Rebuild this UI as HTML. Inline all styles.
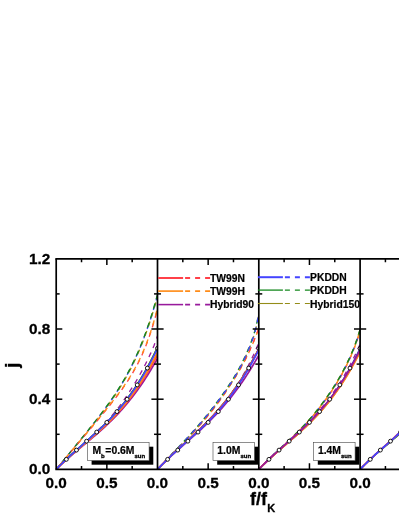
<!DOCTYPE html>
<html><head><meta charset="utf-8"><title>j vs f/fK</title>
<style>html,body{margin:0;padding:0;background:#fff;overflow:hidden}svg{display:block}#w{will-change:transform;width:399px;height:516px}</style></head>
<body>
<div id="w">
<svg width="399" height="516" viewBox="0 0 399 516" font-family="'Liberation Sans', sans-serif" font-weight="bold">
<rect width="399" height="516" fill="#fff"/>
<defs>
<clipPath id="cp0"><rect x="56.20" y="258.80" width="101.30" height="210.60"/></clipPath>
<clipPath id="cp1"><rect x="157.50" y="258.80" width="101.30" height="210.60"/></clipPath>
<clipPath id="cp2"><rect x="258.80" y="258.80" width="101.30" height="210.60"/></clipPath>
<clipPath id="cp3"><rect x="360.10" y="258.80" width="101.30" height="210.60"/></clipPath>
</defs>
<g clip-path="url(#cp0)">
<g fill="none" stroke-width="1.70" stroke-linejoin="round">
<path d="M56.20 469.40 L57.89 467.35 L59.58 465.30 L61.27 463.26 L62.95 461.21 L64.64 459.16 L66.33 457.11 L68.02 455.07 L69.71 453.02 L71.39 450.97 L73.08 448.92 L74.77 446.87 L76.46 444.81 L78.15 442.76 L79.84 440.70 L81.53 438.64 L83.21 436.57 L84.90 434.50 L86.59 432.42 L88.28 430.33 L89.97 428.24 L91.66 426.13 L93.34 424.02 L95.03 421.88 L96.72 419.74 L98.41 417.57 L100.10 415.38 L101.78 413.17 L103.47 410.94 L105.16 408.67 L106.85 406.37 L108.54 404.04 L110.23 401.67 L111.92 399.25 L113.60 396.79 L115.29 394.28 L116.98 391.71 L118.67 389.07 L120.36 386.37 L122.05 383.60 L123.73 380.75 L125.42 377.82 L127.11 374.79 L128.80 371.67 L130.49 368.44 L132.18 365.10 L133.86 361.64 L135.55 358.05 L137.24 354.33 L138.93 350.46 L140.62 346.43 L142.31 342.24 L143.99 337.87 L145.68 333.32 L147.37 328.57 L149.06 323.62 L150.75 318.45 L152.44 313.04 L154.12 307.39 L155.81 301.48 L157.50 295.30" stroke="#4444ff" stroke-dasharray="5 5" stroke-dashoffset="1.5" stroke-width="1.35"/>
<path d="M56.20 469.40 L57.89 467.37 L59.58 465.33 L61.27 463.30 L62.95 461.27 L64.64 459.24 L66.33 457.20 L68.02 455.17 L69.71 453.13 L71.39 451.10 L73.08 449.06 L74.77 447.03 L76.46 444.99 L78.15 442.95 L79.84 440.90 L81.53 438.86 L83.21 436.80 L84.90 434.75 L86.59 432.68 L88.28 430.61 L89.97 428.53 L91.66 426.44 L93.34 424.34 L95.03 422.22 L96.72 420.09 L98.41 417.93 L100.10 415.76 L101.78 413.57 L103.47 411.35 L105.16 409.09 L106.85 406.81 L108.54 404.49 L110.23 402.14 L111.92 399.74 L113.60 397.29 L115.29 394.79 L116.98 392.23 L118.67 389.61 L120.36 386.93 L122.05 384.17 L123.73 381.34 L125.42 378.42 L127.11 375.41 L128.80 372.30 L130.49 369.09 L132.18 365.76 L133.86 362.31 L135.55 358.74 L137.24 355.03 L138.93 351.17 L140.62 347.16 L142.31 342.99 L143.99 338.63 L145.68 334.10 L147.37 329.36 L149.06 324.42 L150.75 319.26 L152.44 313.87 L154.12 308.24 L155.81 302.34 L157.50 296.18" stroke="#948c18" stroke-dasharray="5 5" stroke-dashoffset="-1.5" stroke-width="1.35"/>
<path d="M56.20 469.40 L57.89 467.34 L59.58 465.28 L61.27 463.22 L62.95 461.16 L64.64 459.10 L66.33 457.04 L68.02 454.98 L69.71 452.92 L71.39 450.86 L73.08 448.80 L74.77 446.74 L76.46 444.67 L78.15 442.61 L79.84 440.54 L81.53 438.46 L83.21 436.38 L84.90 434.30 L86.59 432.21 L88.28 430.11 L89.97 428.00 L91.66 425.89 L93.34 423.76 L95.03 421.61 L96.72 419.45 L98.41 417.27 L100.10 415.08 L101.78 412.85 L103.47 410.60 L105.16 408.33 L106.85 406.02 L108.54 403.67 L110.23 401.29 L111.92 398.86 L113.60 396.38 L115.29 393.85 L116.98 391.27 L118.67 388.62 L120.36 385.91 L122.05 383.12 L123.73 380.26 L125.42 377.31 L127.11 374.27 L128.80 371.13 L130.49 367.89 L132.18 364.53 L133.86 361.06 L135.55 357.45 L137.24 353.71 L138.93 349.82 L140.62 345.77 L142.31 341.56 L143.99 337.18 L145.68 332.61 L147.37 327.84 L149.06 322.86 L150.75 317.67 L152.44 312.24 L154.12 306.56 L155.81 300.63 L157.50 294.43" stroke="#14881e" stroke-dasharray="5.5 4.5" stroke-dashoffset="0.5" stroke-width="1.35"/>
<path d="M56.20 469.40 L57.89 467.40 L59.58 465.39 L61.27 463.39 L62.95 461.39 L64.64 459.38 L66.33 457.38 L68.02 455.37 L69.71 453.37 L71.39 451.37 L73.08 449.36 L74.77 447.36 L76.46 445.36 L78.15 443.35 L79.84 441.35 L81.53 439.34 L83.21 437.34 L84.90 435.33 L86.59 433.33 L88.28 431.32 L89.97 429.31 L91.66 427.30 L93.34 425.28 L95.03 423.27 L96.72 421.25 L98.41 419.22 L100.10 417.19 L101.78 415.15 L103.47 413.10 L105.16 411.05 L106.85 408.98 L108.54 406.89 L110.23 404.79 L111.92 402.67 L113.60 400.52 L115.29 398.35 L116.98 396.14 L118.67 393.90 L120.36 391.61 L122.05 389.28 L123.73 386.89 L125.42 384.44 L127.11 381.92 L128.80 379.32 L130.49 376.64 L132.18 373.85 L133.86 370.95 L135.55 367.92 L137.24 364.76 L138.93 361.44 L140.62 357.95 L142.31 354.28 L143.99 350.39 L145.68 346.27 L147.37 341.90 L149.06 337.25 L150.75 332.29 L152.44 327.00 L154.12 321.35 L155.81 315.30 L157.50 308.82" stroke="#ff4048" stroke-dasharray="5 5" stroke-dashoffset="7" stroke-width="1.35"/>
<path d="M56.20 469.40 L57.89 467.38 L59.58 465.36 L61.27 463.35 L62.95 461.33 L64.64 459.31 L66.33 457.29 L68.02 455.27 L69.71 453.25 L71.39 451.24 L73.08 449.22 L74.77 447.20 L76.46 445.18 L78.15 443.16 L79.84 441.14 L81.53 439.12 L83.21 437.10 L84.90 435.08 L86.59 433.06 L88.28 431.04 L89.97 429.02 L91.66 426.99 L93.34 424.96 L95.03 422.93 L96.72 420.90 L98.41 418.86 L100.10 416.81 L101.78 414.76 L103.47 412.69 L105.16 410.62 L106.85 408.54 L108.54 406.44 L110.23 404.32 L111.92 402.18 L113.60 400.02 L115.29 397.83 L116.98 395.61 L118.67 393.36 L120.36 391.06 L122.05 388.71 L123.73 386.31 L125.42 383.84 L127.11 381.31 L128.80 378.70 L130.49 375.99 L132.18 373.19 L133.86 370.28 L135.55 367.24 L137.24 364.06 L138.93 360.73 L140.62 357.22 L142.31 353.53 L143.99 349.63 L145.68 345.49 L147.37 341.11 L149.06 336.44 L150.75 331.47 L152.44 326.17 L154.12 320.50 L155.81 314.44 L157.50 307.94" stroke="#ff8c18" stroke-dasharray="5 5" stroke-dashoffset="5" stroke-width="1.35"/>
<path d="M56.20 469.40 L57.89 467.65 L59.58 465.93 L61.27 464.23 L62.95 462.57 L64.64 460.92 L66.33 459.30 L68.02 457.70 L69.71 456.12 L71.39 454.55 L73.08 453.00 L74.77 451.45 L76.46 449.92 L78.15 448.40 L79.84 446.88 L81.53 445.36 L83.21 443.85 L84.90 442.34 L86.59 440.82 L88.28 439.30 L89.97 437.76 L91.66 436.22 L93.34 434.66 L95.03 433.08 L96.72 431.48 L98.41 429.86 L100.10 428.21 L101.78 426.54 L103.47 424.84 L105.16 423.10 L106.85 421.34 L108.54 419.51 L110.23 417.63 L111.92 415.68 L113.60 413.67 L115.29 411.61 L116.98 409.50 L118.67 407.32 L120.36 405.05 L122.05 402.72 L123.73 400.32 L125.42 397.86 L127.11 395.36 L128.80 392.81 L130.49 390.22 L132.18 387.58 L133.86 384.87 L135.55 382.09 L137.24 379.24 L138.93 376.31 L140.62 373.28 L142.31 370.17 L143.99 366.97 L145.68 363.69 L147.37 360.30 L149.06 356.79 L150.75 353.13 L152.44 349.30 L154.12 345.17 L155.81 340.71 L157.50 336.04" stroke="#981a9c" stroke-dasharray="5 5" stroke-dashoffset="3" stroke-width="1.35"/>
<path d="M56.20 469.40 L57.89 467.73 L59.58 466.09 L61.27 464.48 L62.95 462.91 L64.64 461.35 L66.33 459.83 L68.02 458.32 L69.71 456.84 L71.39 455.37 L73.08 453.92 L74.77 452.48 L76.46 451.05 L78.15 449.63 L79.84 448.22 L81.53 446.82 L83.21 445.41 L84.90 444.01 L86.59 442.60 L88.28 441.20 L89.97 439.78 L91.66 438.36 L93.34 436.93 L95.03 435.49 L96.72 434.04 L98.41 432.57 L100.10 431.08 L101.78 429.57 L103.47 428.05 L105.16 426.50 L106.85 424.92 L108.54 423.32 L110.23 421.69 L111.92 420.03 L113.60 418.34 L115.29 416.61 L116.98 414.85 L118.67 413.06 L120.36 411.22 L122.05 409.35 L123.73 407.43 L125.42 405.47 L127.11 403.47 L128.80 401.42 L130.49 399.32 L132.18 397.17 L133.86 394.97 L135.55 392.73 L137.24 390.43 L138.93 388.07 L140.62 385.66 L142.31 383.20 L143.99 380.68 L145.68 378.10 L147.37 375.46 L149.06 372.76 L150.75 370.00 L152.44 367.18 L154.12 364.29 L155.81 361.34 L157.50 358.33" stroke="#981a9c"/>
<path d="M56.20 469.40 L57.89 467.70 L59.58 466.04 L61.27 464.41 L62.95 462.80 L64.64 461.22 L66.33 459.67 L68.02 458.14 L69.71 456.63 L71.39 455.13 L73.08 453.65 L74.77 452.19 L76.46 450.73 L78.15 449.29 L79.84 447.85 L81.53 446.42 L83.21 444.99 L84.90 443.56 L86.59 442.13 L88.28 440.69 L89.97 439.25 L91.66 437.80 L93.34 436.34 L95.03 434.87 L96.72 433.39 L98.41 431.89 L100.10 430.37 L101.78 428.83 L103.47 427.27 L105.16 425.68 L106.85 424.07 L108.54 422.43 L110.23 420.77 L111.92 419.07 L113.60 417.33 L115.29 415.56 L116.98 413.76 L118.67 411.91 L120.36 410.02 L122.05 408.10 L123.73 406.12 L125.42 404.10 L127.11 402.04 L128.80 399.92 L130.49 397.75 L132.18 395.53 L133.86 393.25 L135.55 390.92 L137.24 388.53 L138.93 386.08 L140.62 383.57 L142.31 381.00 L143.99 378.36 L145.68 375.66 L147.37 372.90 L149.06 370.06 L150.75 367.16 L152.44 364.18 L154.12 361.13 L155.81 358.01 L157.50 354.82" stroke="#ff4048"/>
<path d="M56.20 469.40 L57.89 467.69 L59.58 466.00 L61.27 464.35 L62.95 462.73 L64.64 461.14 L66.33 459.56 L68.02 458.01 L69.71 456.49 L71.39 454.97 L73.08 453.48 L74.77 451.99 L76.46 450.52 L78.15 449.06 L79.84 447.60 L81.53 446.15 L83.21 444.70 L84.90 443.26 L86.59 441.81 L88.28 440.35 L89.97 438.89 L91.66 437.42 L93.34 435.95 L95.03 434.45 L96.72 432.95 L98.41 431.43 L100.10 429.89 L101.78 428.33 L103.47 426.74 L105.16 425.13 L106.85 423.50 L108.54 421.83 L110.23 420.14 L111.92 418.41 L113.60 416.64 L115.29 414.84 L116.98 413.00 L118.67 411.12 L120.36 409.20 L122.05 407.23 L123.73 405.21 L125.42 403.15 L127.11 401.03 L128.80 398.86 L130.49 396.64 L132.18 394.36 L133.86 392.03 L135.55 389.63 L137.24 387.17 L138.93 384.65 L140.62 382.06 L142.31 379.40 L143.99 376.68 L145.68 373.88 L147.37 371.02 L149.06 368.07 L150.75 365.05 L152.44 361.96 L154.12 358.78 L155.81 355.53 L157.50 352.19" stroke="#ff8c18"/>
<path d="M56.20 469.40 L57.89 467.63 L59.58 465.90 L61.27 464.20 L62.95 462.52 L64.64 460.87 L66.33 459.25 L68.02 457.65 L69.71 456.06 L71.39 454.50 L73.08 452.95 L74.77 451.42 L76.46 449.89 L78.15 448.37 L79.84 446.87 L81.53 445.36 L83.21 443.86 L84.90 442.36 L86.59 440.85 L88.28 439.34 L89.97 437.83 L91.66 436.31 L93.34 434.77 L95.03 433.22 L96.72 431.66 L98.41 430.08 L100.10 428.48 L101.78 426.86 L103.47 425.21 L105.16 423.54 L106.85 421.84 L108.54 420.11 L110.23 418.34 L111.92 416.55 L113.60 414.71 L115.29 412.83 L116.98 410.92 L118.67 408.95 L120.36 406.95 L122.05 404.89 L123.73 402.78 L125.42 400.62 L127.11 398.41 L128.80 396.14 L130.49 393.80 L132.18 391.41 L133.86 388.95 L135.55 386.43 L137.24 383.84 L138.93 381.18 L140.62 378.44 L142.31 375.63 L143.99 372.74 L145.68 369.77 L147.37 366.72 L149.06 363.59 L150.75 360.37 L152.44 357.06 L154.12 353.65 L155.81 350.16 L157.50 346.57" stroke="#948c18" stroke-width="1.15"/>
<path d="M56.20 469.40 L57.89 467.64 L59.58 465.91 L61.27 464.21 L62.95 462.54 L64.64 460.90 L66.33 459.28 L68.02 457.69 L69.71 456.11 L71.39 454.55 L73.08 453.01 L74.77 451.48 L76.46 449.96 L78.15 448.45 L79.84 446.95 L81.53 445.45 L83.21 443.95 L84.90 442.46 L86.59 440.96 L88.28 439.46 L89.97 437.95 L91.66 436.43 L93.34 434.90 L95.03 433.36 L96.72 431.80 L98.41 430.23 L100.10 428.63 L101.78 427.02 L103.47 425.38 L105.16 423.71 L106.85 422.02 L108.54 420.29 L110.23 418.53 L111.92 416.74 L113.60 414.91 L115.29 413.04 L116.98 411.13 L118.67 409.17 L120.36 407.17 L122.05 405.12 L123.73 403.02 L125.42 400.86 L127.11 398.65 L128.80 396.39 L130.49 394.06 L132.18 391.67 L133.86 389.22 L135.55 386.71 L137.24 384.12 L138.93 381.46 L140.62 378.73 L142.31 375.93 L143.99 373.05 L145.68 370.08 L147.37 367.04 L149.06 363.91 L150.75 360.69 L152.44 357.39 L154.12 353.99 L155.81 350.51 L157.50 346.92" stroke="#14881e" stroke-width="1.15"/>
<path d="M56.20 469.40 L57.89 467.65 L59.58 465.93 L61.27 464.25 L62.95 462.59 L64.64 460.96 L66.33 459.35 L68.02 457.77 L69.71 456.20 L71.39 454.66 L73.08 453.13 L74.77 451.61 L76.46 450.10 L78.15 448.60 L79.84 447.11 L81.53 445.63 L83.21 444.14 L84.90 442.66 L86.59 441.17 L88.28 439.68 L89.97 438.18 L91.66 436.68 L93.34 435.16 L95.03 433.63 L96.72 432.09 L98.41 430.53 L100.10 428.95 L101.78 427.35 L103.47 425.72 L105.16 424.07 L106.85 422.39 L108.54 420.68 L110.23 418.94 L111.92 417.16 L113.60 415.35 L115.29 413.49 L116.98 411.60 L118.67 409.67 L120.36 407.68 L122.05 405.66 L123.73 403.58 L125.42 401.45 L127.11 399.26 L128.80 397.02 L130.49 394.73 L132.18 392.37 L133.86 389.95 L135.55 387.46 L137.24 384.91 L138.93 382.29 L140.62 379.60 L142.31 376.84 L143.99 374.00 L145.68 371.08 L147.37 368.08 L149.06 365.01 L150.75 361.85 L152.44 358.60 L154.12 355.27 L155.81 351.84 L157.50 348.32" stroke="#4444ff"/>
</g>
<g fill="#fff" stroke="#000" stroke-width="0.9">
<circle cx="66.33" cy="459.35" r="1.95"/>
<circle cx="76.46" cy="450.10" r="1.95"/>
<circle cx="86.59" cy="441.17" r="1.95"/>
<circle cx="96.72" cy="432.09" r="1.95"/>
<circle cx="106.85" cy="422.39" r="1.95"/>
<circle cx="116.98" cy="411.60" r="1.95"/>
<circle cx="127.11" cy="399.26" r="1.95"/>
<circle cx="137.24" cy="384.91" r="1.95"/>
<circle cx="147.37" cy="368.08" r="1.95"/>
<circle cx="157.50" cy="348.32" r="1.95"/>
</g>
</g>
<g clip-path="url(#cp1)">
<g fill="none" stroke-width="1.70" stroke-linejoin="round">
<path d="M157.50 469.40 L159.19 467.61 L160.88 465.86 L162.56 464.13 L164.25 462.43 L165.94 460.77 L167.63 459.12 L169.32 457.50 L171.01 455.89 L172.69 454.31 L174.38 452.74 L176.07 451.18 L177.76 449.63 L179.45 448.10 L181.14 446.57 L182.82 445.04 L184.51 443.52 L186.20 441.99 L187.89 440.47 L189.58 438.94 L191.27 437.40 L192.95 435.86 L194.64 434.31 L196.33 432.74 L198.02 431.16 L199.71 429.57 L201.40 427.95 L203.08 426.31 L204.77 424.65 L206.46 422.96 L208.15 421.24 L209.84 419.49 L211.53 417.71 L213.21 415.89 L214.90 414.03 L216.59 412.14 L218.28 410.20 L219.97 408.21 L221.66 406.19 L223.34 404.11 L225.03 401.99 L226.72 399.81 L228.41 397.58 L230.10 395.28 L231.79 392.92 L233.48 390.50 L235.16 388.01 L236.85 385.45 L238.54 382.81 L240.23 380.08 L241.92 377.25 L243.61 374.32 L245.29 371.29 L246.98 368.16 L248.67 364.93 L250.36 361.57 L252.05 358.07 L253.74 354.42 L255.42 350.64 L257.11 346.74 L258.80 342.71" stroke="#981a9c" stroke-dasharray="5 5" stroke-dashoffset="3" stroke-width="1.35"/>
<path d="M157.50 469.40 L159.19 467.62 L160.88 465.86 L162.56 464.10 L164.25 462.36 L165.94 460.63 L167.63 458.91 L169.32 457.19 L171.01 455.49 L172.69 453.80 L174.38 452.11 L176.07 450.44 L177.76 448.77 L179.45 447.09 L181.14 445.37 L182.82 443.63 L184.51 441.86 L186.20 440.07 L187.89 438.26 L189.58 436.43 L191.27 434.58 L192.95 432.73 L194.64 430.87 L196.33 429.01 L198.02 427.14 L199.71 425.26 L201.40 423.37 L203.08 421.45 L204.77 419.50 L206.46 417.53 L208.15 415.52 L209.84 413.48 L211.53 411.40 L213.21 409.28 L214.90 407.11 L216.59 404.89 L218.28 402.61 L219.97 400.29 L221.66 397.92 L223.34 395.50 L225.03 393.04 L226.72 390.53 L228.41 387.99 L230.10 385.41 L231.79 382.80 L233.48 380.15 L235.16 377.47 L236.85 374.73 L238.54 371.93 L240.23 369.04 L241.92 366.06 L243.61 362.97 L245.29 359.77 L246.98 356.41 L248.67 352.90 L250.36 349.23 L252.05 345.42 L253.74 341.47 L255.42 337.32 L257.11 332.99 L258.80 328.49" stroke="#ff8c18" stroke-dasharray="5 5" stroke-dashoffset="1.5" stroke-width="1.35"/>
<path d="M157.50 469.40 L159.19 467.62 L160.88 465.85 L162.56 464.09 L164.25 462.34 L165.94 460.60 L167.63 458.87 L169.32 457.16 L171.01 455.45 L172.69 453.75 L174.38 452.06 L176.07 450.37 L177.76 448.70 L179.45 447.01 L181.14 445.29 L182.82 443.54 L184.51 441.76 L186.20 439.97 L187.89 438.15 L189.58 436.31 L191.27 434.47 L192.95 432.61 L194.64 430.74 L196.33 428.87 L198.02 427.00 L199.71 425.12 L201.40 423.22 L203.08 421.29 L204.77 419.34 L206.46 417.36 L208.15 415.35 L209.84 413.30 L211.53 411.21 L213.21 409.09 L214.90 406.91 L216.59 404.68 L218.28 402.40 L219.97 400.07 L221.66 397.69 L223.34 395.27 L225.03 392.80 L226.72 390.29 L228.41 387.74 L230.10 385.16 L231.79 382.54 L233.48 379.89 L235.16 377.20 L236.85 374.46 L238.54 371.65 L240.23 368.76 L241.92 365.77 L243.61 362.68 L245.29 359.46 L246.98 356.10 L248.67 352.58 L250.36 348.91 L252.05 345.10 L253.74 341.14 L255.42 336.98 L257.11 332.65 L258.80 328.14" stroke="#ff4048" stroke-dasharray="5 5" stroke-dashoffset="0" stroke-width="1.35"/>
<path d="M157.50 469.40 L159.19 467.58 L160.88 465.77 L162.56 463.97 L164.25 462.19 L165.94 460.42 L167.63 458.66 L169.32 456.91 L171.01 455.16 L172.69 453.43 L174.38 451.71 L176.07 449.99 L177.76 448.28 L179.45 446.55 L181.14 444.81 L182.82 443.03 L184.51 441.24 L186.20 439.43 L187.89 437.60 L189.58 435.75 L191.27 433.89 L192.95 432.02 L194.64 430.13 L196.33 428.24 L198.02 426.33 L199.71 424.41 L201.40 422.46 L203.08 420.47 L204.77 418.45 L206.46 416.41 L208.15 414.34 L209.84 412.24 L211.53 410.12 L213.21 407.97 L214.90 405.80 L216.59 403.59 L218.28 401.35 L219.97 399.06 L221.66 396.74 L223.34 394.38 L225.03 391.98 L226.72 389.56 L228.41 387.09 L230.10 384.58 L231.79 381.99 L233.48 379.32 L235.16 376.56 L236.85 373.68 L238.54 370.68 L240.23 367.57 L241.92 364.32 L243.61 360.92 L245.29 357.38 L246.98 353.66 L248.67 349.75 L250.36 345.58 L252.05 341.08 L253.74 336.17 L255.42 330.49 L257.11 323.19 L258.80 314.98" stroke="#948c18" stroke-dasharray="5 5" stroke-dashoffset="-1" stroke-width="1.35"/>
<path d="M157.50 469.40 L159.19 467.55 L160.88 465.72 L162.56 463.89 L164.25 462.09 L165.94 460.29 L167.63 458.50 L169.32 456.73 L171.01 454.96 L172.69 453.20 L174.38 451.45 L176.07 449.70 L177.76 447.96 L179.45 446.21 L181.14 444.43 L182.82 442.63 L184.51 440.81 L186.20 438.98 L187.89 437.12 L189.58 435.25 L191.27 433.36 L192.95 431.46 L194.64 429.55 L196.33 427.63 L198.02 425.70 L199.71 423.75 L201.40 421.77 L203.08 419.76 L204.77 417.72 L206.46 415.65 L208.15 413.55 L209.84 411.42 L211.53 409.28 L213.21 407.10 L214.90 404.90 L216.59 402.67 L218.28 400.40 L219.97 398.09 L221.66 395.74 L223.34 393.35 L225.03 390.93 L226.72 388.48 L228.41 385.99 L230.10 383.45 L231.79 380.84 L233.48 378.14 L235.16 375.35 L236.85 372.44 L238.54 369.42 L240.23 366.28 L241.92 363.00 L243.61 359.58 L245.29 356.01 L246.98 352.26 L248.67 348.33 L250.36 344.14 L252.05 339.61 L253.74 334.67 L255.42 328.96 L257.11 321.63 L258.80 313.40" stroke="#14881e" stroke-dasharray="5 5" stroke-dashoffset="1.5" stroke-width="1.35"/>
<path d="M157.50 469.40 L159.19 467.57 L160.88 465.75 L162.56 463.95 L164.25 462.15 L165.94 460.37 L167.63 458.61 L169.32 456.85 L171.01 455.10 L172.69 453.36 L174.38 451.62 L176.07 449.89 L177.76 448.17 L179.45 446.44 L181.14 444.68 L182.82 442.90 L184.51 441.10 L186.20 439.28 L187.89 437.44 L189.58 435.58 L191.27 433.71 L192.95 431.83 L194.64 429.94 L196.33 428.03 L198.02 426.12 L199.71 424.19 L201.40 422.23 L203.08 420.23 L204.77 418.21 L206.46 416.15 L208.15 414.07 L209.84 411.97 L211.53 409.84 L213.21 407.68 L214.90 405.50 L216.59 403.28 L218.28 401.03 L219.97 398.74 L221.66 396.41 L223.34 394.04 L225.03 391.63 L226.72 389.20 L228.41 386.73 L230.10 384.20 L231.79 381.61 L233.48 378.93 L235.16 376.15 L236.85 373.26 L238.54 370.26 L240.23 367.14 L241.92 363.88 L243.61 360.48 L245.29 356.92 L246.98 353.19 L248.67 349.28 L250.36 345.10 L252.05 340.59 L253.74 335.67 L255.42 329.98 L257.11 322.67 L258.80 314.45" stroke="#4444ff" stroke-dasharray="5 5" stroke-dashoffset="0" stroke-width="1.35"/>
<path d="M157.50 469.40 L159.19 467.65 L160.88 465.93 L162.56 464.25 L164.25 462.59 L165.94 460.96 L167.63 459.35 L169.32 457.77 L171.01 456.21 L172.69 454.66 L174.38 453.13 L176.07 451.61 L177.76 450.10 L179.45 448.61 L181.14 447.12 L182.82 445.63 L184.51 444.15 L186.20 442.67 L187.89 441.19 L189.58 439.70 L191.27 438.21 L192.95 436.71 L194.64 435.21 L196.33 433.69 L198.02 432.16 L199.71 430.62 L201.40 429.05 L203.08 427.47 L204.77 425.87 L206.46 424.25 L208.15 422.61 L209.84 420.94 L211.53 419.24 L213.21 417.51 L214.90 415.76 L216.59 413.97 L218.28 412.15 L219.97 410.29 L221.66 408.40 L223.34 406.47 L225.03 404.50 L226.72 402.49 L228.41 400.44 L230.10 398.35 L231.79 396.21 L233.48 394.03 L235.16 391.81 L236.85 389.53 L238.54 387.21 L240.23 384.84 L241.92 382.42 L243.61 379.95 L245.29 377.43 L246.98 374.86 L248.67 372.23 L250.36 369.55 L252.05 366.82 L253.74 364.03 L255.42 361.19 L257.11 358.29 L258.80 355.34" stroke="#981a9c"/>
<path d="M157.50 469.40 L159.19 467.61 L160.88 465.85 L162.56 464.12 L164.25 462.42 L165.94 460.74 L167.63 459.09 L169.32 457.46 L171.01 455.85 L172.69 454.26 L174.38 452.69 L176.07 451.13 L177.76 449.58 L179.45 448.03 L181.14 446.50 L182.82 444.97 L184.51 443.44 L186.20 441.92 L187.89 440.39 L189.58 438.86 L191.27 437.32 L192.95 435.78 L194.64 434.22 L196.33 432.65 L198.02 431.07 L199.71 429.48 L201.40 427.86 L203.08 426.23 L204.77 424.57 L206.46 422.89 L208.15 421.19 L209.84 419.45 L211.53 417.69 L213.21 415.90 L214.90 414.07 L216.59 412.21 L218.28 410.31 L219.97 408.37 L221.66 406.39 L223.34 404.37 L225.03 402.31 L226.72 400.20 L228.41 398.04 L230.10 395.83 L231.79 393.58 L233.48 391.27 L235.16 388.91 L236.85 386.49 L238.54 384.01 L240.23 381.48 L241.92 378.89 L243.61 376.23 L245.29 373.52 L246.98 370.74 L248.67 367.89 L250.36 364.98 L252.05 362.00 L253.74 358.95 L255.42 355.83 L257.11 352.64 L258.80 349.38" stroke="#ff8c18"/>
<path d="M157.50 469.40 L159.19 467.59 L160.88 465.82 L162.56 464.08 L164.25 462.37 L165.94 460.68 L167.63 459.02 L169.32 457.38 L171.01 455.76 L172.69 454.16 L174.38 452.57 L176.07 451.00 L177.76 449.44 L179.45 447.88 L181.14 446.34 L182.82 444.80 L184.51 443.26 L186.20 441.72 L187.89 440.18 L189.58 438.64 L191.27 437.09 L192.95 435.53 L194.64 433.96 L196.33 432.39 L198.02 430.79 L199.71 429.18 L201.40 427.56 L203.08 425.91 L204.77 424.25 L206.46 422.55 L208.15 420.84 L209.84 419.09 L211.53 417.32 L213.21 415.51 L214.90 413.67 L216.59 411.80 L218.28 409.89 L219.97 407.94 L221.66 405.95 L223.34 403.92 L225.03 401.84 L226.72 399.72 L228.41 397.55 L230.10 395.33 L231.79 393.06 L233.48 390.74 L235.16 388.37 L236.85 385.94 L238.54 383.45 L240.23 380.91 L241.92 378.30 L243.61 375.64 L245.29 372.91 L246.98 370.12 L248.67 367.26 L250.36 364.34 L252.05 361.34 L253.74 358.28 L255.42 355.15 L257.11 351.95 L258.80 348.68" stroke="#948c18" stroke-width="1.15"/>
<path d="M157.50 469.40 L159.19 467.58 L160.88 465.79 L162.56 464.04 L164.25 462.31 L165.94 460.61 L167.63 458.93 L169.32 457.28 L171.01 455.64 L172.69 454.03 L174.38 452.43 L176.07 450.84 L177.76 449.26 L179.45 447.69 L181.14 446.13 L182.82 444.58 L184.51 443.02 L186.20 441.47 L187.89 439.92 L189.58 438.36 L191.27 436.80 L192.95 435.23 L194.64 433.65 L196.33 432.05 L198.02 430.45 L199.71 428.83 L201.40 427.19 L203.08 425.53 L204.77 423.85 L206.46 422.14 L208.15 420.41 L209.84 418.66 L211.53 416.87 L213.21 415.06 L214.90 413.21 L216.59 411.32 L218.28 409.40 L219.97 407.44 L221.66 405.45 L223.34 403.41 L225.03 401.32 L226.72 399.20 L228.41 397.02 L230.10 394.80 L231.79 392.53 L233.48 390.21 L235.16 387.83 L236.85 385.41 L238.54 382.92 L240.23 380.38 L241.92 377.78 L243.61 375.12 L245.29 372.41 L246.98 369.62 L248.67 366.78 L250.36 363.87 L252.05 360.90 L253.74 357.86 L255.42 354.75 L257.11 351.57 L258.80 348.32" stroke="#14881e" stroke-width="1.15"/>
<path d="M157.50 469.40 L159.19 467.59 L160.88 465.82 L162.56 464.08 L164.25 462.37 L165.94 460.68 L167.63 459.02 L169.32 457.38 L171.01 455.76 L172.69 454.16 L174.38 452.57 L176.07 451.00 L177.76 449.44 L179.45 447.88 L181.14 446.34 L182.82 444.80 L184.51 443.26 L186.20 441.72 L187.89 440.18 L189.58 438.64 L191.27 437.09 L192.95 435.53 L194.64 433.97 L196.33 432.39 L198.02 430.80 L199.71 429.19 L201.40 427.56 L203.08 425.92 L204.77 424.25 L206.46 422.56 L208.15 420.85 L209.84 419.10 L211.53 417.33 L213.21 415.53 L214.90 413.69 L216.59 411.82 L218.28 409.91 L219.97 407.97 L221.66 405.98 L223.34 403.96 L225.03 401.89 L226.72 399.77 L228.41 397.61 L230.10 395.40 L231.79 393.14 L233.48 390.82 L235.16 388.46 L236.85 386.04 L238.54 383.57 L240.23 381.03 L241.92 378.44 L243.61 375.79 L245.29 373.08 L246.98 370.31 L248.67 367.47 L250.36 364.56 L252.05 361.59 L253.74 358.56 L255.42 355.45 L257.11 352.27 L258.80 349.03" stroke="#ff4048"/>
<path d="M157.50 469.40 L159.19 467.62 L160.88 465.88 L162.56 464.17 L164.25 462.49 L165.94 460.83 L167.63 459.20 L169.32 457.59 L171.01 455.99 L172.69 454.42 L174.38 452.86 L176.07 451.32 L177.76 449.79 L179.45 448.26 L181.14 446.75 L182.82 445.23 L184.51 443.72 L186.20 442.21 L187.89 440.70 L189.58 439.19 L191.27 437.67 L192.95 436.14 L194.64 434.60 L196.33 433.05 L198.02 431.49 L199.71 429.91 L201.40 428.31 L203.08 426.69 L204.77 425.05 L206.46 423.38 L208.15 421.69 L209.84 419.97 L211.53 418.22 L213.21 416.44 L214.90 414.63 L216.59 412.77 L218.28 410.89 L219.97 408.96 L221.66 406.99 L223.34 404.97 L225.03 402.92 L226.72 400.81 L228.41 398.66 L230.10 396.46 L231.79 394.20 L233.48 391.89 L235.16 389.53 L236.85 387.11 L238.54 384.63 L240.23 382.08 L241.92 379.48 L243.61 376.82 L245.29 374.09 L246.98 371.29 L248.67 368.42 L250.36 365.49 L252.05 362.49 L253.74 359.41 L255.42 356.26 L257.11 353.03 L258.80 349.73" stroke="#4444ff"/>
</g>
<g fill="#fff" stroke="#000" stroke-width="0.9">
<circle cx="167.63" cy="459.35" r="1.95"/>
<circle cx="177.76" cy="450.10" r="1.95"/>
<circle cx="187.89" cy="441.17" r="1.95"/>
<circle cx="198.02" cy="432.09" r="1.95"/>
<circle cx="208.15" cy="422.39" r="1.95"/>
<circle cx="218.28" cy="411.60" r="1.95"/>
<circle cx="228.41" cy="399.26" r="1.95"/>
<circle cx="238.54" cy="384.91" r="1.95"/>
<circle cx="248.67" cy="368.08" r="1.95"/>
<circle cx="258.80" cy="348.32" r="1.95"/>
</g>
</g>
<g clip-path="url(#cp2)">
<g fill="none" stroke-width="1.70" stroke-linejoin="round">
<path d="M258.80 469.40 L260.49 467.65 L262.18 465.92 L263.86 464.23 L265.55 462.56 L267.24 460.91 L268.93 459.28 L270.62 457.67 L272.31 456.08 L274.00 454.51 L275.68 452.94 L277.37 451.39 L279.06 449.86 L280.75 448.32 L282.44 446.78 L284.12 445.24 L285.81 443.69 L287.50 442.13 L289.19 440.57 L290.88 438.99 L292.57 437.40 L294.25 435.80 L295.94 434.18 L297.63 432.55 L299.32 430.90 L301.01 429.21 L302.70 427.49 L304.38 425.73 L306.07 423.93 L307.76 422.09 L309.45 420.21 L311.14 418.30 L312.83 416.35 L314.51 414.34 L316.20 412.28 L317.89 410.16 L319.58 407.99 L321.27 405.78 L322.96 403.52 L324.64 401.24 L326.33 398.92 L328.02 396.56 L329.71 394.14 L331.40 391.67 L333.09 389.14 L334.77 386.52 L336.46 383.82 L338.15 381.02 L339.84 378.14 L341.53 375.16 L343.22 372.07 L344.90 368.87 L346.59 365.55 L348.28 362.10 L349.97 358.48 L351.66 354.64 L353.35 350.56 L355.04 346.24 L356.72 341.55 L358.41 336.42 L360.10 330.95" stroke="#ff4048" stroke-dasharray="5 5" stroke-dashoffset="7" stroke-width="1.35"/>
<path d="M258.80 469.40 L260.49 467.65 L262.18 465.92 L263.86 464.22 L265.55 462.54 L267.24 460.88 L268.93 459.24 L270.62 457.62 L272.31 456.02 L274.00 454.44 L275.68 452.86 L277.37 451.30 L279.06 449.75 L280.75 448.20 L282.44 446.66 L284.12 445.10 L285.81 443.55 L287.50 441.98 L289.19 440.41 L290.88 438.83 L292.57 437.23 L294.25 435.62 L295.94 433.99 L297.63 432.35 L299.32 430.68 L301.01 428.99 L302.70 427.26 L304.38 425.49 L306.07 423.68 L307.76 421.83 L309.45 419.95 L311.14 418.03 L312.83 416.07 L314.51 414.05 L316.20 411.98 L317.89 409.85 L319.58 407.68 L321.27 405.45 L322.96 403.19 L324.64 400.89 L326.33 398.57 L328.02 396.20 L329.71 393.78 L331.40 391.30 L333.09 388.75 L334.77 386.13 L336.46 383.41 L338.15 380.61 L339.84 377.71 L341.53 374.73 L343.22 371.63 L344.90 368.43 L346.59 365.10 L348.28 361.63 L349.97 358.00 L351.66 354.15 L353.35 350.07 L355.04 345.74 L356.72 341.04 L358.41 335.90 L360.10 330.42" stroke="#ff8c18" stroke-dasharray="5 5" stroke-dashoffset="4" stroke-width="1.35"/>
<path d="M258.80 469.40 L260.49 467.64 L262.18 465.90 L263.86 464.19 L265.55 462.51 L267.24 460.84 L268.93 459.19 L270.62 457.57 L272.31 455.96 L274.00 454.36 L275.68 452.78 L277.37 451.21 L279.06 449.65 L280.75 448.09 L282.44 446.53 L284.12 444.97 L285.81 443.40 L287.50 441.83 L289.19 440.25 L290.88 438.66 L292.57 437.05 L294.25 435.44 L295.94 433.80 L297.63 432.15 L299.32 430.47 L301.01 428.77 L302.70 427.03 L304.38 425.25 L306.07 423.43 L307.76 421.58 L309.45 419.68 L311.14 417.75 L312.83 415.78 L314.51 413.76 L316.20 411.68 L317.89 409.55 L319.58 407.36 L321.27 405.13 L322.96 402.86 L324.64 400.55 L326.33 398.21 L328.02 395.84 L329.71 393.41 L331.40 390.92 L333.09 388.37 L334.77 385.73 L336.46 383.01 L338.15 380.20 L339.84 377.29 L341.53 374.30 L343.22 371.20 L344.90 367.98 L346.59 364.64 L348.28 361.17 L349.97 357.53 L351.66 353.67 L353.35 349.58 L355.04 345.24 L356.72 340.53 L358.41 335.38 L360.10 329.90" stroke="#4444ff" stroke-dasharray="5 5" stroke-dashoffset="-1" stroke-width="1.35"/>
<path d="M258.80 469.40 L260.49 467.63 L262.18 465.88 L263.86 464.16 L265.55 462.46 L267.24 460.78 L268.93 459.13 L270.62 457.49 L272.31 455.87 L274.00 454.26 L275.68 452.66 L277.37 451.08 L279.06 449.50 L280.75 447.93 L282.44 446.36 L284.12 444.79 L285.81 443.21 L287.50 441.63 L289.19 440.04 L290.88 438.44 L292.57 436.82 L294.25 435.19 L295.94 433.54 L297.63 431.88 L299.32 430.19 L301.01 428.48 L302.70 426.73 L304.38 424.93 L306.07 423.11 L307.76 421.24 L309.45 419.33 L311.14 417.39 L312.83 415.41 L314.51 413.38 L316.20 411.28 L317.89 409.14 L319.58 406.94 L321.27 404.70 L322.96 402.41 L324.64 400.10 L326.33 397.75 L328.02 395.36 L329.71 392.92 L331.40 390.42 L333.09 387.85 L334.77 385.21 L336.46 382.47 L338.15 379.65 L339.84 376.73 L341.53 373.72 L343.22 370.61 L344.90 367.39 L346.59 364.03 L348.28 360.55 L349.97 356.90 L351.66 353.03 L353.35 348.92 L355.04 344.58 L356.72 339.85 L358.41 334.69 L360.10 329.19" stroke="#948c18" stroke-dasharray="5 5" stroke-dashoffset="1" stroke-width="1.35"/>
<path d="M258.80 469.40 L260.49 467.63 L262.18 465.89 L263.86 464.18 L265.55 462.48 L267.24 460.81 L268.93 459.16 L270.62 457.53 L272.31 455.91 L274.00 454.31 L275.68 452.72 L277.37 451.14 L279.06 449.57 L280.75 448.01 L282.44 446.45 L284.12 444.88 L285.81 443.31 L287.50 441.73 L289.19 440.14 L290.88 438.55 L292.57 436.94 L294.25 435.31 L295.94 433.67 L297.63 432.01 L299.32 430.33 L301.01 428.62 L302.70 426.88 L304.38 425.09 L306.07 423.27 L307.76 421.41 L309.45 419.51 L311.14 417.57 L312.83 415.60 L314.51 413.57 L316.20 411.48 L317.89 409.34 L319.58 407.15 L321.27 404.91 L322.96 402.64 L324.64 400.32 L326.33 397.98 L328.02 395.60 L329.71 393.16 L331.40 390.67 L333.09 388.11 L334.77 385.47 L336.46 382.74 L338.15 379.92 L339.84 377.01 L341.53 374.01 L343.22 370.90 L344.90 367.68 L346.59 364.34 L348.28 360.86 L349.97 357.21 L351.66 353.35 L353.35 349.25 L355.04 344.91 L356.72 340.19 L358.41 335.03 L360.10 329.55" stroke="#14881e" stroke-dasharray="5 5" stroke-width="1.35"/>
<path d="M258.80 469.40 L260.49 467.65 L262.18 465.93 L263.86 464.25 L265.55 462.59 L267.24 460.96 L268.93 459.35 L270.62 457.77 L272.31 456.20 L274.00 454.66 L275.68 453.13 L277.37 451.61 L279.06 450.10 L280.75 448.60 L282.44 447.11 L284.12 445.63 L285.81 444.14 L287.50 442.66 L289.19 441.17 L290.88 439.68 L292.57 438.18 L294.25 436.68 L295.94 435.16 L297.63 433.63 L299.32 432.09 L301.01 430.53 L302.70 428.95 L304.38 427.35 L306.07 425.72 L307.76 424.07 L309.45 422.39 L311.14 420.68 L312.83 418.94 L314.51 417.16 L316.20 415.35 L317.89 413.49 L319.58 411.60 L321.27 409.67 L322.96 407.68 L324.64 405.66 L326.33 403.58 L328.02 401.45 L329.71 399.26 L331.40 397.02 L333.09 394.73 L334.77 392.37 L336.46 389.95 L338.15 387.46 L339.84 384.91 L341.53 382.29 L343.22 379.60 L344.90 376.84 L346.59 374.00 L348.28 371.08 L349.97 368.08 L351.66 365.01 L353.35 361.85 L355.04 358.60 L356.72 355.27 L358.41 351.84 L360.10 348.32" stroke="#4444ff"/>
<path d="M258.80 469.40 L260.49 467.65 L262.18 465.93 L263.86 464.25 L265.55 462.59 L267.24 460.96 L268.93 459.35 L270.62 457.77 L272.31 456.20 L274.00 454.66 L275.68 453.13 L277.37 451.61 L279.06 450.10 L280.75 448.60 L282.44 447.11 L284.12 445.63 L285.81 444.14 L287.50 442.66 L289.19 441.17 L290.88 439.68 L292.57 438.19 L294.25 436.68 L295.94 435.17 L297.63 433.64 L299.32 432.09 L301.01 430.53 L302.70 428.96 L304.38 427.36 L306.07 425.73 L307.76 424.08 L309.45 422.40 L311.14 420.70 L312.83 418.96 L314.51 417.19 L316.20 415.38 L317.89 413.53 L319.58 411.64 L321.27 409.71 L322.96 407.74 L324.64 405.72 L326.33 403.65 L328.02 401.53 L329.71 399.35 L331.40 397.12 L333.09 394.84 L334.77 392.49 L336.46 390.09 L338.15 387.62 L339.84 385.08 L341.53 382.48 L343.22 379.81 L344.90 377.07 L346.59 374.25 L348.28 371.36 L349.97 368.40 L351.66 365.35 L353.35 362.22 L355.04 359.01 L356.72 355.71 L358.41 352.32 L360.10 348.85" stroke="#14881e" stroke-width="1.15"/>
<path d="M258.80 469.40 L260.49 467.69 L262.18 466.01 L263.86 464.36 L265.55 462.74 L267.24 461.15 L268.93 459.58 L270.62 458.04 L272.31 456.51 L274.00 455.00 L275.68 453.51 L277.37 452.03 L279.06 450.56 L280.75 449.10 L282.44 447.64 L284.12 446.20 L285.81 444.75 L287.50 443.30 L289.19 441.86 L290.88 440.40 L292.57 438.94 L294.25 437.48 L295.94 436.00 L297.63 434.51 L299.32 433.00 L301.01 431.48 L302.70 429.94 L304.38 428.38 L306.07 426.79 L307.76 425.18 L309.45 423.53 L311.14 421.86 L312.83 420.16 L314.51 418.42 L316.20 416.65 L317.89 414.84 L319.58 412.98 L321.27 411.09 L322.96 409.15 L324.64 407.16 L326.33 405.12 L328.02 403.03 L329.71 400.89 L331.40 398.69 L333.09 396.44 L334.77 394.12 L336.46 391.74 L338.15 389.30 L339.84 386.79 L341.53 384.22 L343.22 381.57 L344.90 378.85 L346.59 376.06 L348.28 373.19 L349.97 370.24 L351.66 367.21 L353.35 364.10 L355.04 360.90 L356.72 357.62 L358.41 354.25 L360.10 350.78" stroke="#948c18" stroke-width="1.15"/>
<path d="M258.80 469.40 L260.49 467.66 L262.18 465.96 L263.86 464.29 L265.55 462.65 L267.24 461.03 L268.93 459.44 L270.62 457.87 L272.31 456.32 L274.00 454.79 L275.68 453.27 L277.37 451.77 L279.06 450.28 L280.75 448.79 L282.44 447.32 L284.12 445.85 L285.81 444.38 L287.50 442.91 L289.19 441.44 L290.88 439.96 L292.57 438.48 L294.25 437.00 L295.94 435.50 L297.63 433.99 L299.32 432.46 L301.01 430.92 L302.70 429.36 L304.38 427.78 L306.07 426.17 L307.76 424.54 L309.45 422.89 L311.14 421.20 L312.83 419.49 L314.51 417.74 L316.20 415.96 L317.89 414.14 L319.58 412.28 L321.27 410.38 L322.96 408.44 L324.64 406.45 L326.33 404.42 L328.02 402.33 L329.71 400.20 L331.40 398.02 L333.09 395.78 L334.77 393.48 L336.46 391.13 L338.15 388.72 L339.84 386.25 L341.53 383.71 L343.22 381.11 L344.90 378.44 L346.59 375.70 L348.28 372.89 L349.97 370.01 L351.66 367.06 L353.35 364.03 L355.04 360.93 L356.72 357.74 L358.41 354.48 L360.10 351.13" stroke="#ff4048"/>
<path d="M258.80 469.40 L260.49 467.68 L262.18 465.99 L263.86 464.33 L265.55 462.70 L267.24 461.09 L268.93 459.51 L270.62 457.95 L272.31 456.42 L274.00 454.90 L275.68 453.39 L277.37 451.90 L279.06 450.42 L280.75 448.95 L282.44 447.48 L284.12 446.02 L285.81 444.57 L287.50 443.11 L289.19 441.65 L290.88 440.19 L292.57 438.72 L294.25 437.24 L295.94 435.76 L297.63 434.26 L299.32 432.74 L301.01 431.21 L302.70 429.67 L304.38 428.10 L306.07 426.51 L307.76 424.89 L309.45 423.25 L311.14 421.58 L312.83 419.88 L314.51 418.14 L316.20 416.37 L317.89 414.57 L319.58 412.73 L321.27 410.84 L322.96 408.92 L324.64 406.95 L326.33 404.93 L328.02 402.87 L329.71 400.75 L331.40 398.59 L333.09 396.37 L334.77 394.09 L336.46 391.76 L338.15 389.37 L339.84 386.92 L341.53 384.41 L343.22 381.83 L344.90 379.19 L346.59 376.48 L348.28 373.70 L349.97 370.85 L351.66 367.93 L353.35 364.94 L355.04 361.87 L356.72 358.72 L358.41 355.49 L360.10 352.19" stroke="#ff8c18"/>
<path d="M258.80 469.40 L260.49 467.64 L262.18 465.92 L263.86 464.23 L265.55 462.57 L267.24 460.93 L268.93 459.32 L270.62 457.73 L272.31 456.16 L274.00 454.61 L275.68 453.07 L277.37 451.54 L279.06 450.03 L280.75 448.53 L282.44 447.03 L284.12 445.54 L285.81 444.05 L287.50 442.56 L289.19 441.07 L290.88 439.57 L292.57 438.07 L294.25 436.56 L295.94 435.04 L297.63 433.51 L299.32 431.97 L301.01 430.40 L302.70 428.82 L304.38 427.22 L306.07 425.59 L307.76 423.94 L309.45 422.27 L311.14 420.56 L312.83 418.82 L314.51 417.06 L316.20 415.25 L317.89 413.41 L319.58 411.53 L321.27 409.61 L322.96 407.64 L324.64 405.63 L326.33 403.57 L328.02 401.47 L329.71 399.31 L331.40 397.10 L333.09 394.84 L334.77 392.52 L336.46 390.14 L338.15 387.71 L339.84 385.21 L341.53 382.64 L343.22 380.01 L344.90 377.32 L346.59 374.55 L348.28 371.71 L349.97 368.80 L351.66 365.82 L353.35 362.76 L355.04 359.62 L356.72 356.41 L358.41 353.11 L360.10 349.73" stroke="#981a9c"/>
<path d="M258.80 469.40 L260.49 467.61 L262.18 465.86 L263.86 464.13 L265.55 462.43 L267.24 460.77 L268.93 459.12 L270.62 457.50 L272.31 455.89 L274.00 454.31 L275.68 452.74 L277.37 451.18 L279.06 449.63 L280.75 448.10 L282.44 446.57 L284.12 445.04 L285.81 443.52 L287.50 441.99 L289.19 440.47 L290.88 438.94 L292.57 437.40 L294.25 435.86 L295.94 434.31 L297.63 432.74 L299.32 431.16 L301.01 429.57 L302.70 427.95 L304.38 426.31 L306.07 424.65 L307.76 422.96 L309.45 421.24 L311.14 419.49 L312.83 417.71 L314.51 415.89 L316.20 414.03 L317.89 412.14 L319.58 410.20 L321.27 408.21 L322.96 406.18 L324.64 404.11 L326.33 401.98 L328.02 399.80 L329.71 397.56 L331.40 395.26 L333.09 392.90 L334.77 390.48 L336.46 387.99 L338.15 385.44 L339.84 382.81 L341.53 380.10 L343.22 377.31 L344.90 374.44 L346.59 371.47 L348.28 368.42 L349.97 365.28 L351.66 362.03 L353.35 358.67 L355.04 355.19 L356.72 351.61 L358.41 347.91 L360.10 344.11" stroke="#981a9c" stroke-dasharray="5 5" stroke-dashoffset="3" stroke-width="1.35"/>
</g>
<g fill="#fff" stroke="#000" stroke-width="0.9">
<circle cx="268.93" cy="459.35" r="1.95"/>
<circle cx="279.06" cy="450.10" r="1.95"/>
<circle cx="289.19" cy="441.17" r="1.95"/>
<circle cx="299.32" cy="432.09" r="1.95"/>
<circle cx="309.45" cy="422.39" r="1.95"/>
<circle cx="319.58" cy="411.60" r="1.95"/>
<circle cx="329.71" cy="399.26" r="1.95"/>
<circle cx="339.84" cy="384.91" r="1.95"/>
<circle cx="349.97" cy="368.08" r="1.95"/>
<circle cx="360.10" cy="348.32" r="1.95"/>
</g>
</g>
<g clip-path="url(#cp3)">
<g fill="none" stroke-width="1.70" stroke-linejoin="round">
<path d="M360.10 469.40 L361.79 467.70 L363.48 466.03 L365.16 464.40 L366.85 462.79 L368.54 461.21 L370.23 459.65 L371.92 458.12 L373.61 456.60 L375.29 455.11 L376.98 453.62 L378.67 452.16 L380.36 450.70 L382.05 449.25 L383.74 447.81 L385.42 446.37 L387.11 444.94 L388.80 443.50 L390.49 442.07 L392.18 440.63 L393.87 439.18 L395.56 437.72 L397.24 436.26 L398.93 434.78 L400.62 433.29 L402.31 431.78 L404.00 430.25 L405.69 428.70 L407.37 427.12 L409.06 425.52 L410.75 423.90 L412.44 422.24 L414.13 420.55 L415.81 418.83 L417.50 417.07 L419.19 415.27 L420.88 413.43 L422.57 411.55 L424.26 409.63 L425.94 407.66 L427.63 405.64 L429.32 403.56 L431.01 401.44 L432.70 399.26 L434.39 397.03 L436.07 394.73 L437.76 392.37 L439.45 389.96 L441.14 387.47 L442.83 384.92 L444.52 382.30 L446.20 379.61 L447.89 376.84 L449.58 374.00 L451.27 371.08 L452.96 368.08 L454.65 365.00 L456.33 361.84 L458.02 358.59 L459.71 355.26 L461.40 351.83" stroke="#14881e" stroke-width="1.15"/>
<path d="M360.10 469.40 L361.79 467.66 L363.48 465.95 L365.16 464.27 L366.85 462.63 L368.54 461.00 L370.23 459.41 L371.92 457.83 L373.61 456.27 L375.29 454.74 L376.98 453.21 L378.67 451.71 L380.36 450.21 L382.05 448.72 L383.74 447.24 L385.42 445.76 L387.11 444.28 L388.80 442.81 L390.49 441.33 L392.18 439.85 L393.87 438.36 L395.56 436.87 L397.24 435.36 L398.93 433.84 L400.62 432.31 L402.31 430.76 L404.00 429.19 L405.69 427.60 L407.37 425.99 L409.06 424.35 L410.75 422.69 L412.44 421.00 L414.13 419.27 L415.81 417.51 L417.50 415.72 L419.19 413.88 L420.88 412.01 L422.57 410.10 L424.26 408.14 L425.94 406.14 L427.63 404.09 L429.32 401.99 L431.01 399.84 L432.70 397.63 L434.39 395.37 L436.07 393.05 L437.76 390.68 L439.45 388.24 L441.14 385.74 L442.83 383.17 L444.52 380.53 L446.20 377.83 L447.89 375.05 L449.58 372.21 L451.27 369.28 L452.96 366.28 L454.65 363.21 L456.33 360.05 L458.02 356.81 L459.71 353.49 L461.40 350.08" stroke="#981a9c"/>
<path d="M360.10 469.40 L361.79 467.64 L363.48 465.92 L365.16 464.23 L366.85 462.57 L368.54 460.93 L370.23 459.32 L371.92 457.73 L373.61 456.16 L375.29 454.61 L376.98 453.07 L378.67 451.54 L380.36 450.03 L382.05 448.53 L383.74 447.03 L385.42 445.54 L387.11 444.05 L388.80 442.56 L390.49 441.07 L392.18 439.58 L393.87 438.07 L395.56 436.57 L397.24 435.05 L398.93 433.52 L400.62 431.97 L402.31 430.41 L404.00 428.83 L405.69 427.23 L407.37 425.60 L409.06 423.95 L410.75 422.28 L412.44 420.57 L414.13 418.84 L415.81 417.07 L417.50 415.27 L419.19 413.43 L420.88 411.55 L422.57 409.64 L424.26 407.68 L425.94 405.67 L427.63 403.62 L429.32 401.52 L431.01 399.37 L432.70 397.17 L434.39 394.92 L436.07 392.60 L437.76 390.24 L439.45 387.81 L441.14 385.32 L442.83 382.77 L444.52 380.15 L446.20 377.47 L447.89 374.72 L449.58 371.90 L451.27 369.01 L452.96 366.05 L454.65 363.01 L456.33 359.90 L458.02 356.70 L459.71 353.43 L461.40 350.08" stroke="#ff8c18"/>
<path d="M360.10 469.40 L361.79 467.63 L363.48 465.89 L365.16 464.19 L366.85 462.51 L368.54 460.86 L370.23 459.23 L371.92 457.63 L373.61 456.04 L375.29 454.47 L376.98 452.92 L378.67 451.38 L380.36 449.86 L382.05 448.34 L383.74 446.83 L385.42 445.32 L387.11 443.81 L388.80 442.31 L390.49 440.80 L392.18 439.29 L393.87 437.78 L395.56 436.25 L397.24 434.72 L398.93 433.17 L400.62 431.61 L402.31 430.03 L404.00 428.43 L405.69 426.82 L407.37 425.17 L409.06 423.51 L410.75 421.81 L412.44 420.09 L414.13 418.33 L415.81 416.55 L417.50 414.72 L419.19 412.86 L420.88 410.96 L422.57 409.02 L424.26 407.03 L425.94 405.00 L427.63 402.92 L429.32 400.79 L431.01 398.61 L432.70 396.38 L434.39 394.09 L436.07 391.74 L437.76 389.33 L439.45 386.86 L441.14 384.33 L442.83 381.73 L444.52 379.07 L446.20 376.34 L447.89 373.53 L449.58 370.66 L451.27 367.70 L452.96 364.68 L454.65 361.57 L456.33 358.38 L458.02 355.11 L459.71 351.76 L461.40 348.32" stroke="#ff4048"/>
<path d="M360.10 469.40 L361.79 467.65 L363.48 465.93 L365.16 464.25 L366.85 462.59 L368.54 460.96 L370.23 459.35 L371.92 457.77 L373.61 456.20 L375.29 454.66 L376.98 453.13 L378.67 451.61 L380.36 450.10 L382.05 448.60 L383.74 447.11 L385.42 445.63 L387.11 444.14 L388.80 442.66 L390.49 441.17 L392.18 439.68 L393.87 438.18 L395.56 436.68 L397.24 435.16 L398.93 433.63 L400.62 432.09 L402.31 430.53 L404.00 428.95 L405.69 427.35 L407.37 425.72 L409.06 424.07 L410.75 422.39 L412.44 420.68 L414.13 418.94 L415.81 417.16 L417.50 415.35 L419.19 413.49 L420.88 411.60 L422.57 409.67 L424.26 407.68 L425.94 405.66 L427.63 403.58 L429.32 401.45 L431.01 399.26 L432.70 397.02 L434.39 394.73 L436.07 392.37 L437.76 389.95 L439.45 387.46 L441.14 384.91 L442.83 382.29 L444.52 379.60 L446.20 376.84 L447.89 374.00 L449.58 371.08 L451.27 368.08 L452.96 365.01 L454.65 361.85 L456.33 358.60 L458.02 355.27 L459.71 351.84 L461.40 348.32" stroke="#4444ff"/>
<path d="M360.10 469.40 L361.79 467.64 L363.48 465.90 L365.16 464.20 L366.85 462.53 L368.54 460.89 L370.23 459.27 L371.92 457.67 L373.61 456.09 L375.29 454.53 L376.98 452.98 L378.67 451.45 L380.36 449.93 L382.05 448.41 L383.74 446.91 L385.42 445.40 L387.11 443.90 L388.80 442.40 L390.49 440.90 L392.18 439.39 L393.87 437.88 L395.56 436.36 L397.24 434.82 L398.93 433.27 L400.62 431.71 L402.31 430.13 L404.00 428.53 L405.69 426.90 L407.37 425.25 L409.06 423.57 L410.75 421.87 L412.44 420.13 L414.13 418.35 L415.81 416.54 L417.50 414.70 L419.19 412.80 L420.88 410.87 L422.57 408.89 L424.26 406.86 L425.94 404.78 L427.63 402.65 L429.32 400.46 L431.01 398.21 L432.70 395.90 L434.39 393.52 L436.07 391.09 L437.76 388.58 L439.45 386.00 L441.14 383.35 L442.83 380.62 L444.52 377.81 L446.20 374.92 L447.89 371.95 L449.58 368.89 L451.27 365.74 L452.96 362.50 L454.65 359.16 L456.33 355.73 L458.02 352.19 L459.71 348.56 L461.40 344.81" stroke="#4444ff" stroke-dasharray="5 5" stroke-width="1.35"/>
</g>
<g fill="#fff" stroke="#000" stroke-width="0.9">
<circle cx="370.23" cy="459.35" r="1.95"/>
<circle cx="380.36" cy="450.10" r="1.95"/>
<circle cx="390.49" cy="441.17" r="1.95"/>
<circle cx="400.62" cy="432.09" r="1.95"/>
</g>
</g>
<g stroke="#000" stroke-width="1.70" fill="none" stroke-linecap="butt">
<path d="M55.35 258.80 H404"/>
<path d="M55.35 469.40 H404"/>
<path d="M56.20 258.80 V469.40"/>
<path d="M157.50 258.80 V469.40"/>
<path d="M258.80 258.80 V469.40"/>
<path d="M360.10 258.80 V469.40"/>
</g>
<g stroke="#000" stroke-width="1.50" fill="none">
<path d="M81.53 258.80 v3.45 M81.53 469.40 v-3.45"/>
<path d="M106.85 258.80 v6.10 M106.85 469.40 v-6.10"/>
<path d="M132.18 258.80 v3.45 M132.18 469.40 v-3.45"/>
<path d="M56.20 434.30 h3.45"/>
<path d="M56.20 399.20 h6.10"/>
<path d="M56.20 364.10 h3.45"/>
<path d="M56.20 329.00 h6.10"/>
<path d="M56.20 293.90 h3.45"/>
<path d="M182.82 258.80 v3.45 M182.82 469.40 v-3.45"/>
<path d="M208.15 258.80 v6.10 M208.15 469.40 v-6.10"/>
<path d="M233.48 258.80 v3.45 M233.48 469.40 v-3.45"/>
<path d="M154.05 434.30 h6.90"/>
<path d="M151.40 399.20 h12.20"/>
<path d="M154.05 364.10 h6.90"/>
<path d="M151.40 329.00 h12.20"/>
<path d="M154.05 293.90 h6.90"/>
<path d="M284.12 258.80 v3.45 M284.12 469.40 v-3.45"/>
<path d="M309.45 258.80 v6.10 M309.45 469.40 v-6.10"/>
<path d="M334.77 258.80 v3.45 M334.77 469.40 v-3.45"/>
<path d="M255.35 434.30 h6.90"/>
<path d="M252.70 399.20 h12.20"/>
<path d="M255.35 364.10 h6.90"/>
<path d="M252.70 329.00 h12.20"/>
<path d="M255.35 293.90 h6.90"/>
<path d="M385.42 258.80 v3.45 M385.42 469.40 v-3.45"/>
<path d="M410.75 258.80 v6.10 M410.75 469.40 v-6.10"/>
<path d="M436.07 258.80 v3.45 M436.07 469.40 v-3.45"/>
<path d="M356.65 434.30 h6.90"/>
<path d="M354.00 399.20 h12.20"/>
<path d="M356.65 364.10 h6.90"/>
<path d="M354.00 329.00 h12.20"/>
<path d="M356.65 293.90 h6.90"/>
</g>
<path d="M158.10 278.00 h25" stroke="#ff4048" stroke-width="2.00"/>
<path d="M185.10 278.00 h25" stroke="#ff4048" stroke-width="2.00" stroke-dasharray="5 5"/>
<text x="210.00" y="281.60" font-size="10.3" stroke="#000" stroke-width="0.2">TW99N</text>
<path d="M158.10 291.10 h25" stroke="#ff8c18" stroke-width="1.65"/>
<path d="M185.10 291.10 h25" stroke="#ff8c18" stroke-width="1.65" stroke-dasharray="5 5"/>
<text x="210.00" y="294.70" font-size="10.3" stroke="#000" stroke-width="0.2">TW99H</text>
<path d="M158.10 304.60 h25" stroke="#981a9c" stroke-width="1.55"/>
<path d="M185.10 304.60 h25" stroke="#981a9c" stroke-width="1.55" stroke-dasharray="5 5"/>
<text x="210.00" y="308.20" font-size="10.3" stroke="#000" stroke-width="0.2">Hybrid90</text>
<path d="M257.90 277.20 h25" stroke="#4444ff" stroke-width="2.00"/>
<path d="M284.90 277.20 h25" stroke="#4444ff" stroke-width="2.00" stroke-dasharray="5 5"/>
<text x="310.10" y="280.80" font-size="10.3" stroke="#000" stroke-width="0.2">PKDDN</text>
<path d="M257.90 290.10 h25" stroke="#14881e" stroke-width="1.30"/>
<path d="M284.90 290.10 h25" stroke="#14881e" stroke-width="1.30" stroke-dasharray="5 5"/>
<text x="310.10" y="293.90" font-size="10.3" stroke="#000" stroke-width="0.2">PKDDH</text>
<path d="M257.90 303.50 h25" stroke="#948c18" stroke-width="1.10"/>
<path d="M284.90 303.50 h25" stroke="#948c18" stroke-width="1.10" stroke-dasharray="5 5"/>
<text x="310.10" y="307.60" font-size="10.3" stroke="#000" stroke-width="0.2">Hybrid150</text>
<rect x="91.60" y="446.70" width="61.70" height="18.00" fill="#000"/>
<rect x="87.40" y="442.60" width="61.70" height="18.00" fill="#fff" stroke="#444" stroke-width="0.6"/>
<text x="92.40" y="454.00" font-size="10.4" stroke="#000" stroke-width="0.2">M<tspan font-size="6" dy="3.8" stroke="#000" stroke-width="0.3">b</tspan><tspan dy="-3.8" dx="0.6">=0.6M</tspan><tspan font-size="6" dy="3.8" stroke="#000" stroke-width="0.3">sun</tspan></text>
<rect x="217.20" y="446.70" width="41.50" height="18.00" fill="#000"/>
<rect x="213.00" y="442.60" width="41.50" height="18.00" fill="#fff" stroke="#444" stroke-width="0.6"/>
<text x="217.30" y="454.00" font-size="10.4" stroke="#000" stroke-width="0.2">1.0M<tspan font-size="6" dy="3.8" stroke="#000" stroke-width="0.3">sun</tspan></text>
<rect x="317.80" y="446.70" width="41.50" height="18.00" fill="#000"/>
<rect x="313.60" y="442.60" width="41.50" height="18.00" fill="#fff" stroke="#444" stroke-width="0.6"/>
<text x="317.90" y="454.00" font-size="10.4" stroke="#000" stroke-width="0.2">1.4M<tspan font-size="6" dy="3.8" stroke="#000" stroke-width="0.3">sun</tspan></text>
<g font-size="15.3" text-anchor="end" stroke="#000" stroke-width="0.3">
<text x="50.2" y="474.10">0.0</text>
<text x="50.2" y="403.90">0.4</text>
<text x="50.2" y="333.70">0.8</text>
<text x="50.2" y="263.50">1.2</text>
</g>
<g font-size="15.3" text-anchor="middle" stroke="#000" stroke-width="0.3">
<text x="56.20" y="487.8">0.0</text>
<text x="106.85" y="487.8">0.5</text>
<text x="157.50" y="487.8">0.0</text>
<text x="208.15" y="487.8">0.5</text>
<text x="258.80" y="487.8">0.0</text>
<text x="309.45" y="487.8">0.5</text>
<text x="360.10" y="487.8">0.0</text>
<text x="410.75" y="487.8">0.5</text>
</g>
<text x="250" y="504.5" font-size="18" stroke="#000" stroke-width="0.3">f/f<tspan font-size="11" dy="7.8" dx="0.3">K</tspan></text>
<text transform="translate(18.3 365.3) rotate(-90)" font-size="18" text-anchor="middle" x="0" y="0" stroke="#000" stroke-width="0.3">j</text>
</svg>
</div>
</body></html>
